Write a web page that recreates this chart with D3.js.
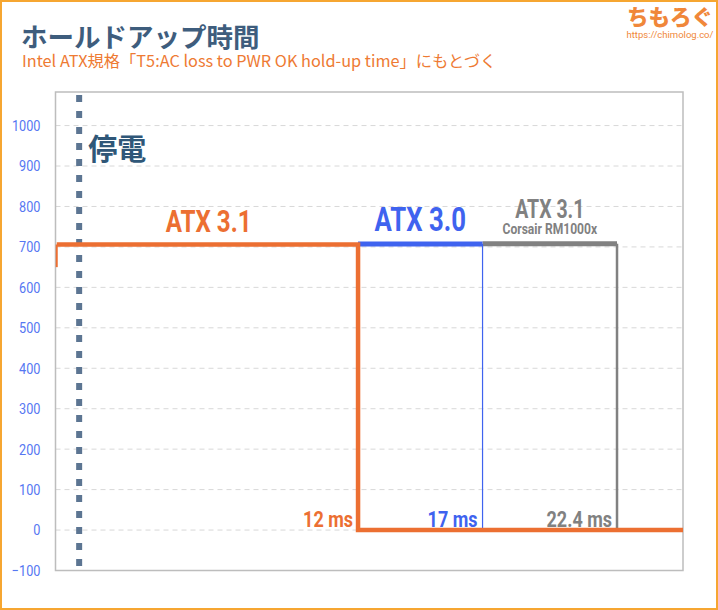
<!DOCTYPE html>
<html><head><meta charset="utf-8">
<script src="https://cdn.jsdelivr.net/npm/d3@7"></script>
<style>
html,body{margin:0;padding:0;background:#fff;}
svg{display:block;}
</style></head>
<body>
<script>
// ---- data ----
const yTicks = [-100, 0, 100, 200, 300, 400, 500, 600, 700, 800, 900, 1000];
const seriesNames = ["ATX 3.1", "ATX 3.0", "ATX 3.1"];
const seriesSub = ["", "", "Corsair RM1000x"];
const seriesColors = ["#ec6f32", "#3f63ef", "#818181"];
const holdStart = [0, 12, 17];        // ms where each series' top segment begins
const holdUpMs = [12, 17, 22.4];      // ms where output drops
const holdLevel = [706, 707, 708];    // output level while holding
const startLevel = 650;               // initial reading of ATX 3.1 trace
const lowLevel = 0;                   // level after the drop
const powerOffMs = 0.8;
const xDomain = [-0.15, 25.05];
const yDomain = [-100, 1083];

(function () {
const W = 718, H = 610;
const svg = d3.select("body").append("svg").attr("width", W).attr("height", H);

svg.append("rect").attr("x", 1).attr("y", 1).attr("width", W - 2).attr("height", H - 2)
  .attr("fill", "#fff").attr("stroke", "#f6a631").attr("stroke-width", 2);

const pL = 55.5, pR = 683, pT = 92, pB = 570.5;
const x = d3.scaleLinear().domain(xDomain).range([pL, pR]);
const y = d3.scaleLinear().domain(yDomain).range([pB, pT]);

// title
svg.append("text").attr("x", 21).attr("y", 47)
  .attr("font-family", "'Noto Sans CJK JP'").attr("font-weight", 700).attr("font-size", 26.5)
  .attr("fill", "#3e5d7d").text("ホールドアップ時間");
svg.append("text").attr("x", 22).attr("y", 67)
  .attr("font-family", "'Noto Sans CJK JP'").attr("font-weight", 400).attr("font-size", 16.3)
  .attr("fill", "#ee7a33").text("Intel ATX規格「T5:AC loss to PWR OK hold-up time」にもとづく");

// logo
svg.append("text").attr("x", 670).attr("y", 25).attr("text-anchor", "middle")
  .attr("font-family", "'Noto Sans CJK JP'").attr("font-weight", 900).attr("font-size", 21.5)
  .attr("fill", "#f0873a").text("ちもろぐ");
svg.append("text").attr("x", 670).attr("y", 37.5).attr("text-anchor", "middle")
  .attr("font-family", "Roboto").attr("font-size", 9.5)
  .attr("fill", "#f0873a").text("https://chimolog.co/");

// grid
const g = svg.append("g");
g.selectAll("line.grid").data(yTicks.filter(d => d >= 0)).join("line")
  .attr("x1", pL).attr("x2", pR).attr("y1", d => y(d)).attr("y2", d => y(d))
  .attr("stroke", "#d8d8d8").attr("stroke-width", 1).attr("stroke-dasharray", "5,4");

// frame
g.append("rect").attr("x", pL).attr("y", pT).attr("width", pR - pL).attr("height", pB - pT)
  .attr("fill", "none").attr("stroke", "#bdbdbd").attr("stroke-width", 1.5);

// y axis labels
const yAxis = d3.axisLeft(y).tickValues(yTicks).tickFormat(d3.format("d")).tickSize(0).tickPadding(0);
const ya = svg.append("g").attr("transform", `translate(${pL - 15},0)`).call(yAxis);
ya.select(".domain").remove();
ya.selectAll(".tick").attr("transform", d => `translate(0,${y(d)}) scale(0.82,1)`);
ya.selectAll("text")
  .attr("font-family", "Roboto").attr("font-size", 15.5).attr("fill", "#5677f2")
  .attr("x", 0).attr("dy", "0.35em");

// power-off dashed line
svg.append("line").attr("x1", x(powerOffMs)).attr("x2", x(powerOffMs))
  .attr("y1", pT + 3).attr("y2", pB - 4)
  .attr("stroke", "#5c7592").attr("stroke-width", 6).attr("stroke-dasharray", "7,9");
svg.append("text").attr("x", x(powerOffMs) + 9).attr("y", 160)
  .attr("font-family", "'Noto Sans CJK JP'").attr("font-weight", 700).attr("font-size", 29)
  .attr("fill", "#2f5778").text("停電");

const line = d3.line().x(d => x(d[0])).y(d => y(d[1]));

// gray (Corsair) series
svg.append("path").attr("d", line([[holdStart[2], holdLevel[2]], [holdUpMs[2], holdLevel[2]]]))
  .attr("fill", "none").attr("stroke", seriesColors[2]).attr("stroke-width", 5);
svg.append("path").attr("d", line([[holdUpMs[2], holdLevel[2]], [holdUpMs[2], lowLevel + 3]]))
  .attr("fill", "none").attr("stroke", seriesColors[2]).attr("stroke-width", 2.5);

// blue series
svg.append("path").attr("d", line([[holdStart[1], holdLevel[1]], [holdUpMs[1], holdLevel[1]]]))
  .attr("fill", "none").attr("stroke", seriesColors[1]).attr("stroke-width", 5);
svg.append("path").attr("d", line([[holdUpMs[1], holdLevel[1]], [holdUpMs[1], lowLevel + 3]]))
  .attr("fill", "none").attr("stroke", seriesColors[1]).attr("stroke-width", 1.2);

// orange series
svg.append("path").attr("d", line([
    [xDomain[0] + 0.05, holdLevel[0]],
    [holdUpMs[0], holdLevel[0]], [holdUpMs[0], lowLevel], [xDomain[1], lowLevel]]))
  .attr("fill", "none").attr("stroke", seriesColors[0]).attr("stroke-width", 4.5)
  .attr("stroke-linejoin", "miter");
svg.append("path").attr("d", line([[xDomain[0] + 0.05, startLevel], [xDomain[0] + 0.05, holdLevel[0]]]))
  .attr("fill", "none").attr("stroke", seriesColors[0]).attr("stroke-width", 2);

// series labels
function condText(px, py, str, size, color, anchor, sx) {
  svg.append("text").attr("transform", `translate(${px},${py}) scale(${sx},1)`)
    .attr("text-anchor", anchor)
    .attr("font-family", "Roboto").attr("font-weight", 700).attr("font-size", size)
    .attr("fill", color).text(str);
}
const mids = holdStart.map((s, i) => (s + holdUpMs[i]) / 2);
condText(x(mids[0]), 232, seriesNames[0], 31, seriesColors[0], "middle", 0.78);
condText(x(mids[1]), 231, seriesNames[1], 33, seriesColors[1], "middle", 0.78);
condText(x(mids[2]), 218, seriesNames[2], 25, seriesColors[2], "middle", 0.78);
condText(x(mids[2]), 234, seriesSub[2], 15.5, seriesColors[2], "middle", 0.78);

// ms labels
holdUpMs.forEach((v, i) => {
  condText(x(v) - 5, 527, `${v} ms`, 22.5, seriesColors[i], "end", 0.8);
});
})();
</script>
</body></html>
